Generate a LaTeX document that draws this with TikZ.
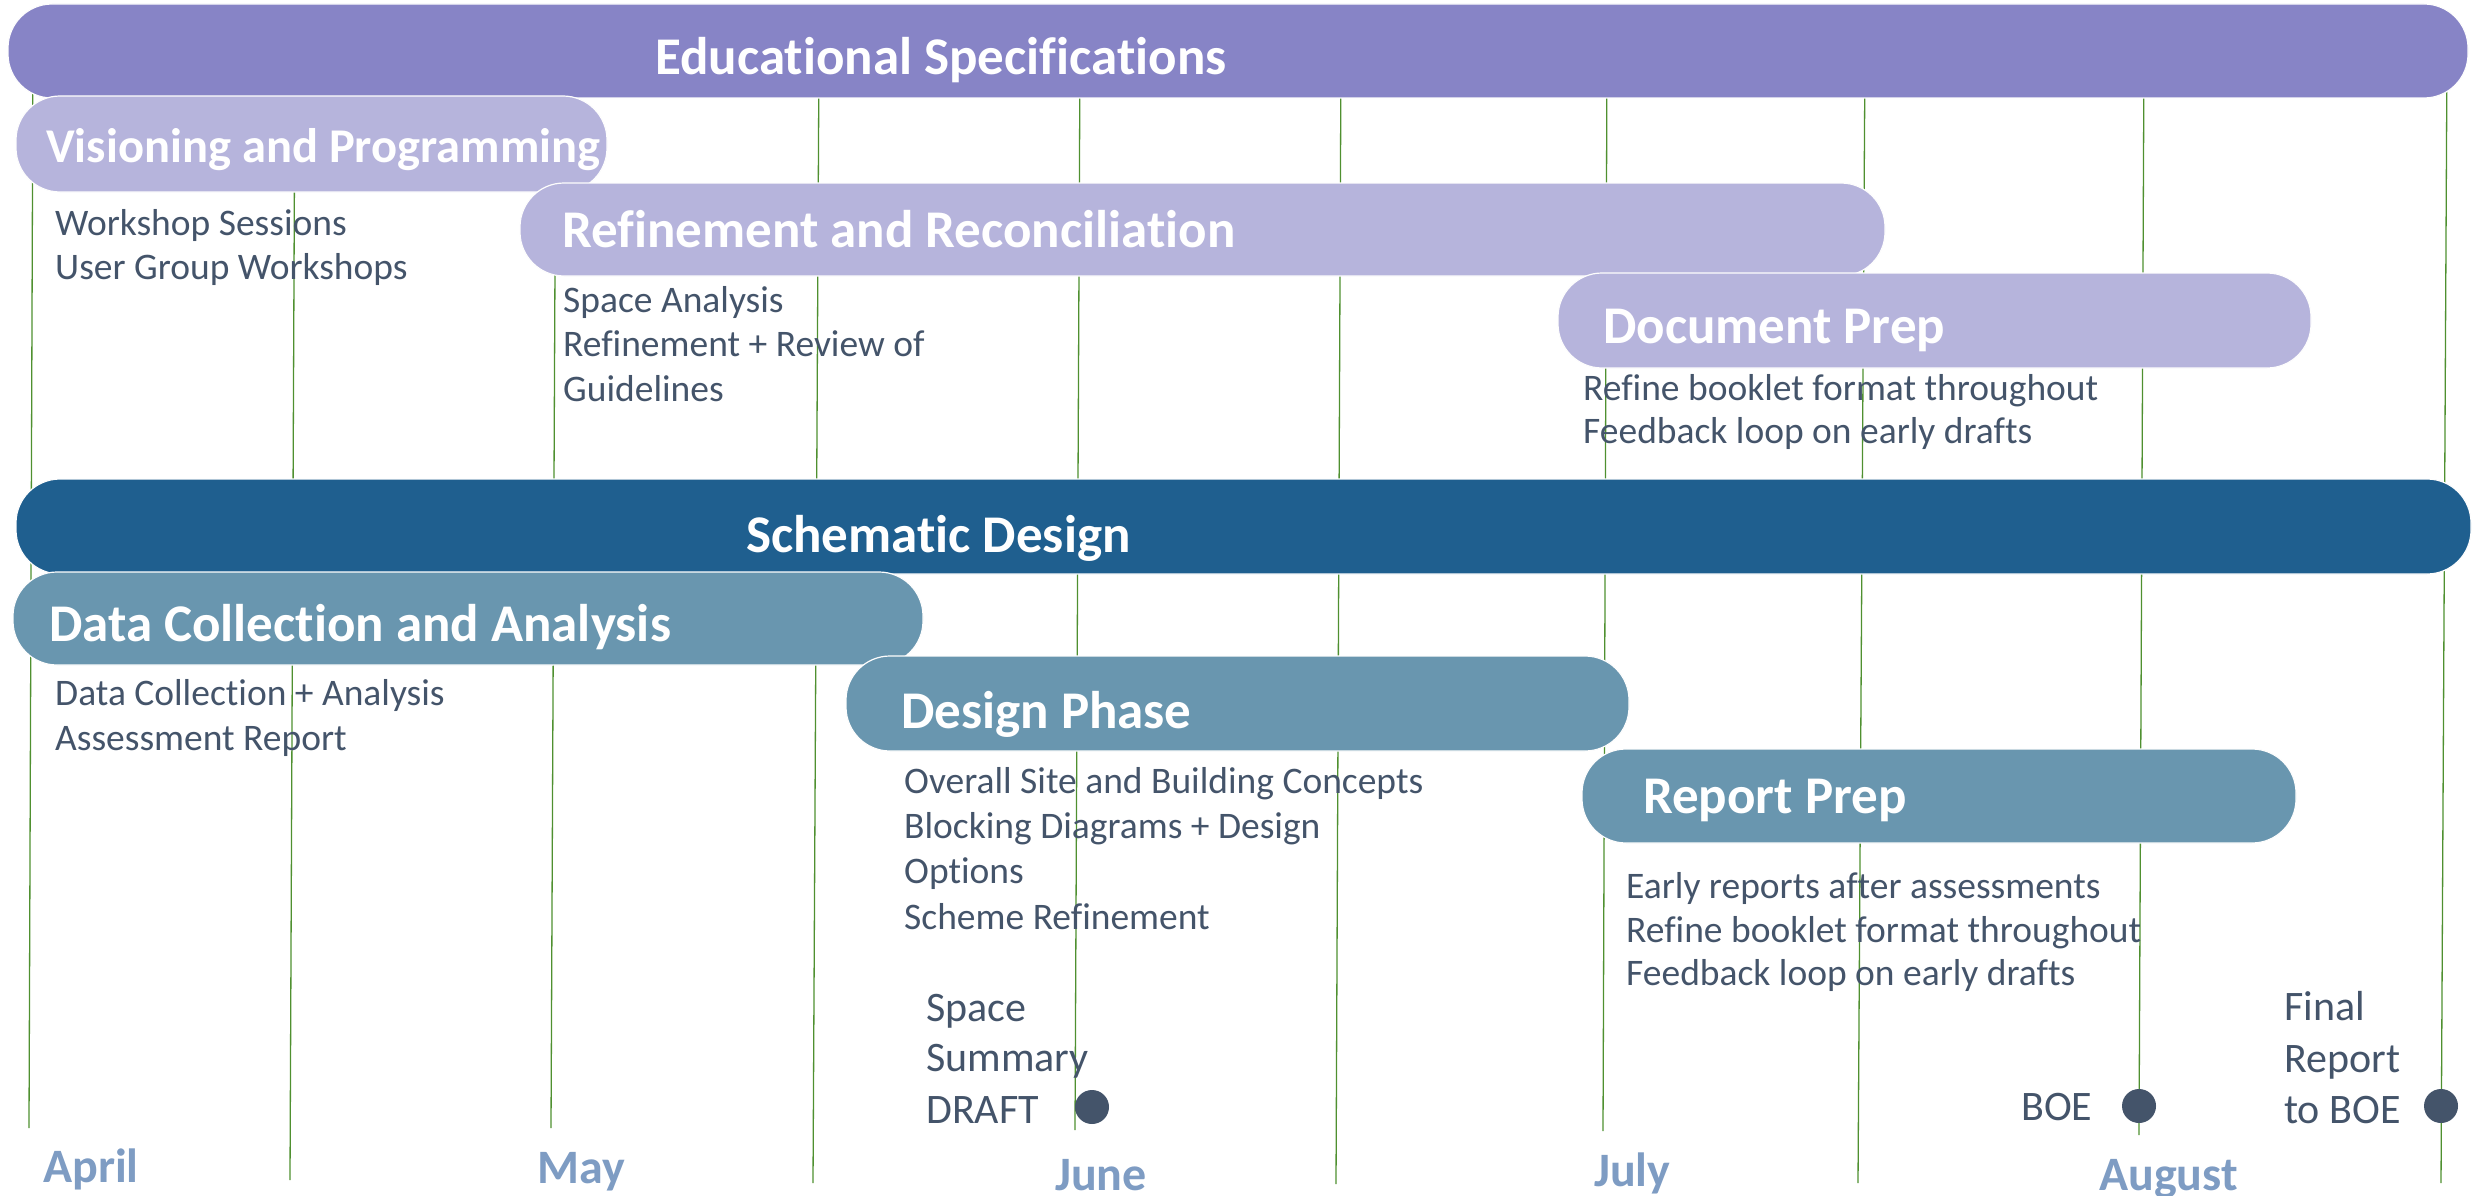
\documentclass[tikz,border=0pt]{standalone}
\usepackage{fontspec}
\setmainfont{Carlito}[Ligatures={NoCommon}]
\definecolor{edspec}{HTML}{8784C6}
\definecolor{subpurple}{HTML}{B6B4DC}
\definecolor{schem}{HTML}{1F5F8F}
\definecolor{subblue}{HTML}{6996AF}
\definecolor{slate}{HTML}{44546A}
\definecolor{monthc}{HTML}{7E9CC3}
\definecolor{lineg}{HTML}{4F9030}
\begin{document}
\begin{tikzpicture}[x=1pt,y=-1pt,
  vline/.style={draw=lineg, line width=1.3pt},
  bar/.style={rounded corners=44pt, draw=white!85!black!5, line width=1.2pt},
  hdr/.style={anchor=base west, inner sep=0pt, text=white, font=\fontsize{53}{60}\selectfont\bfseries},
  desc/.style={anchor=base west, inner sep=0pt, text=slate, font=\fontsize{37.5}{44}\selectfont},
  mile/.style={anchor=base west, inner sep=0pt, text=slate, font=\fontsize{42}{51}\selectfont},
  month/.style={anchor=base west, inner sep=0pt, text=monthc, font=\fontsize{48}{56}\selectfont\bfseries},
  dot/.style={circle, fill=slate, minimum size=34pt, inner sep=0pt}]
\useasboundingbox (0,0) rectangle (2473,1196);
% vertical grid lines
\draw[vline] (33,50) -- (29,1128);
\draw[vline] (295,50) -- (290,1180);
\draw[vline] (556,50) -- (551,1128);
\draw[vline] (819,50) -- (813,1183);
\draw[vline] (1080,50) -- (1075,1130);
\draw[vline] (1341,50) -- (1336,1184);
\draw[vline] (1607,50) -- (1603,1131);
\draw[vline] (1865,50) -- (1858,1183);
\draw[vline] (2144,50) -- (2139,1135);
\draw[vline] (2447,50) -- (2441,1183);
% bars
\filldraw[fill=edspec, bar] (8,4) rectangle (2468,98);
\filldraw[fill=subpurple, bar] (16,96) rectangle (607,192);
\filldraw[fill=subpurple, bar] (520,183) rectangle (1885,276);
\filldraw[fill=subpurple, bar] (1558,273) rectangle (2311,368);
\filldraw[fill=schem, bar] (16,479) rectangle (2471,574);
\filldraw[fill=subblue, bar] (13,572) rectangle (923,665);
\filldraw[fill=subblue, bar] (846,656) rectangle (1629,751);
\filldraw[fill=subblue, bar] (1582,749) rectangle (2296,843);
% headers
\node[hdr] (h1) at (655,75) {Educational Specifications};
\node[hdr, font=\fontsize{48.5}{60}\selectfont\bfseries] (h2) at (46,162) {Visioning and Programming};
\node[hdr] (h3) at (562,247) {Refinement and Reconciliation};
\node[hdr] (h4) at (1603,343) {Document Prep};
\node[hdr] (h5) at (746,552) {Schematic Design};
\node[hdr] (h6) at (49,641) {Data Collection and Analysis};
\node[hdr] (h7) at (901,728) {Design Phase};
\node[hdr] (h8) at (1643,813) {Report Prep};
% descriptions
\node[desc] (d2a) at (55,235) {Workshop Sessions};
\node[desc] (d2b) at (55,279) {User Group Workshops};
\node[desc] (d3a) at (563,312) {Space Analysis};
\node[desc] (d3b) at (563,356) {Refinement + Review of};
\node[desc] (d3c) at (563,401) {Guidelines};
\node[desc] (d4a) at (1583,400) {Refine booklet format throughout};
\node[desc] (d4b) at (1583,443) {Feedback loop on early drafts};
\node[desc] (d6a) at (55,705) {Data Collection + Analysis};
\node[desc] (d6b) at (55,750) {Assessment Report};
\node[desc] (d7a) at (904,793) {Overall Site and Building Concepts};
\node[desc] (d7b) at (904,838) {Blocking Diagrams + Design};
\node[desc] (d7c) at (904,883) {Options};
\node[desc] (d7d) at (904,929) {Scheme Refinement};
\node[desc] (d8a) at (1626,898) {Early reports after assessments};
\node[desc] (d8b) at (1626,942) {Refine booklet format throughout};
\node[desc] (d8c) at (1626,985) {Feedback loop on early drafts};
% milestones
\node[mile] (m1a) at (926,1021) {Space};
\node[mile] (m1b) at (926,1071) {Summary};
\node[mile] (m1c) at (926,1123) {DRAFT};
\node[dot] (dot1) at (1092,1107) {};
\node[mile] (m2) at (2021,1120) {BOE};
\node[dot] (dot2) at (2139,1106) {};
\node[mile] (m3a) at (2284,1020) {Final};
\node[mile] (m3b) at (2284,1072) {Report};
\node[mile] (m3c) at (2284,1123) {to BOE};
\node[dot] (dot3) at (2441,1106) {};
% months
\node[month] (apr) at (43,1182) {April};
\node[month] (may) at (537,1183) {May};
\node[month] (jun) at (1055,1190) {June};
\node[month] (jul) at (1594,1186) {July};
\node[month] (aug) at (2099,1190) {August};
\end{tikzpicture}
\end{document}
